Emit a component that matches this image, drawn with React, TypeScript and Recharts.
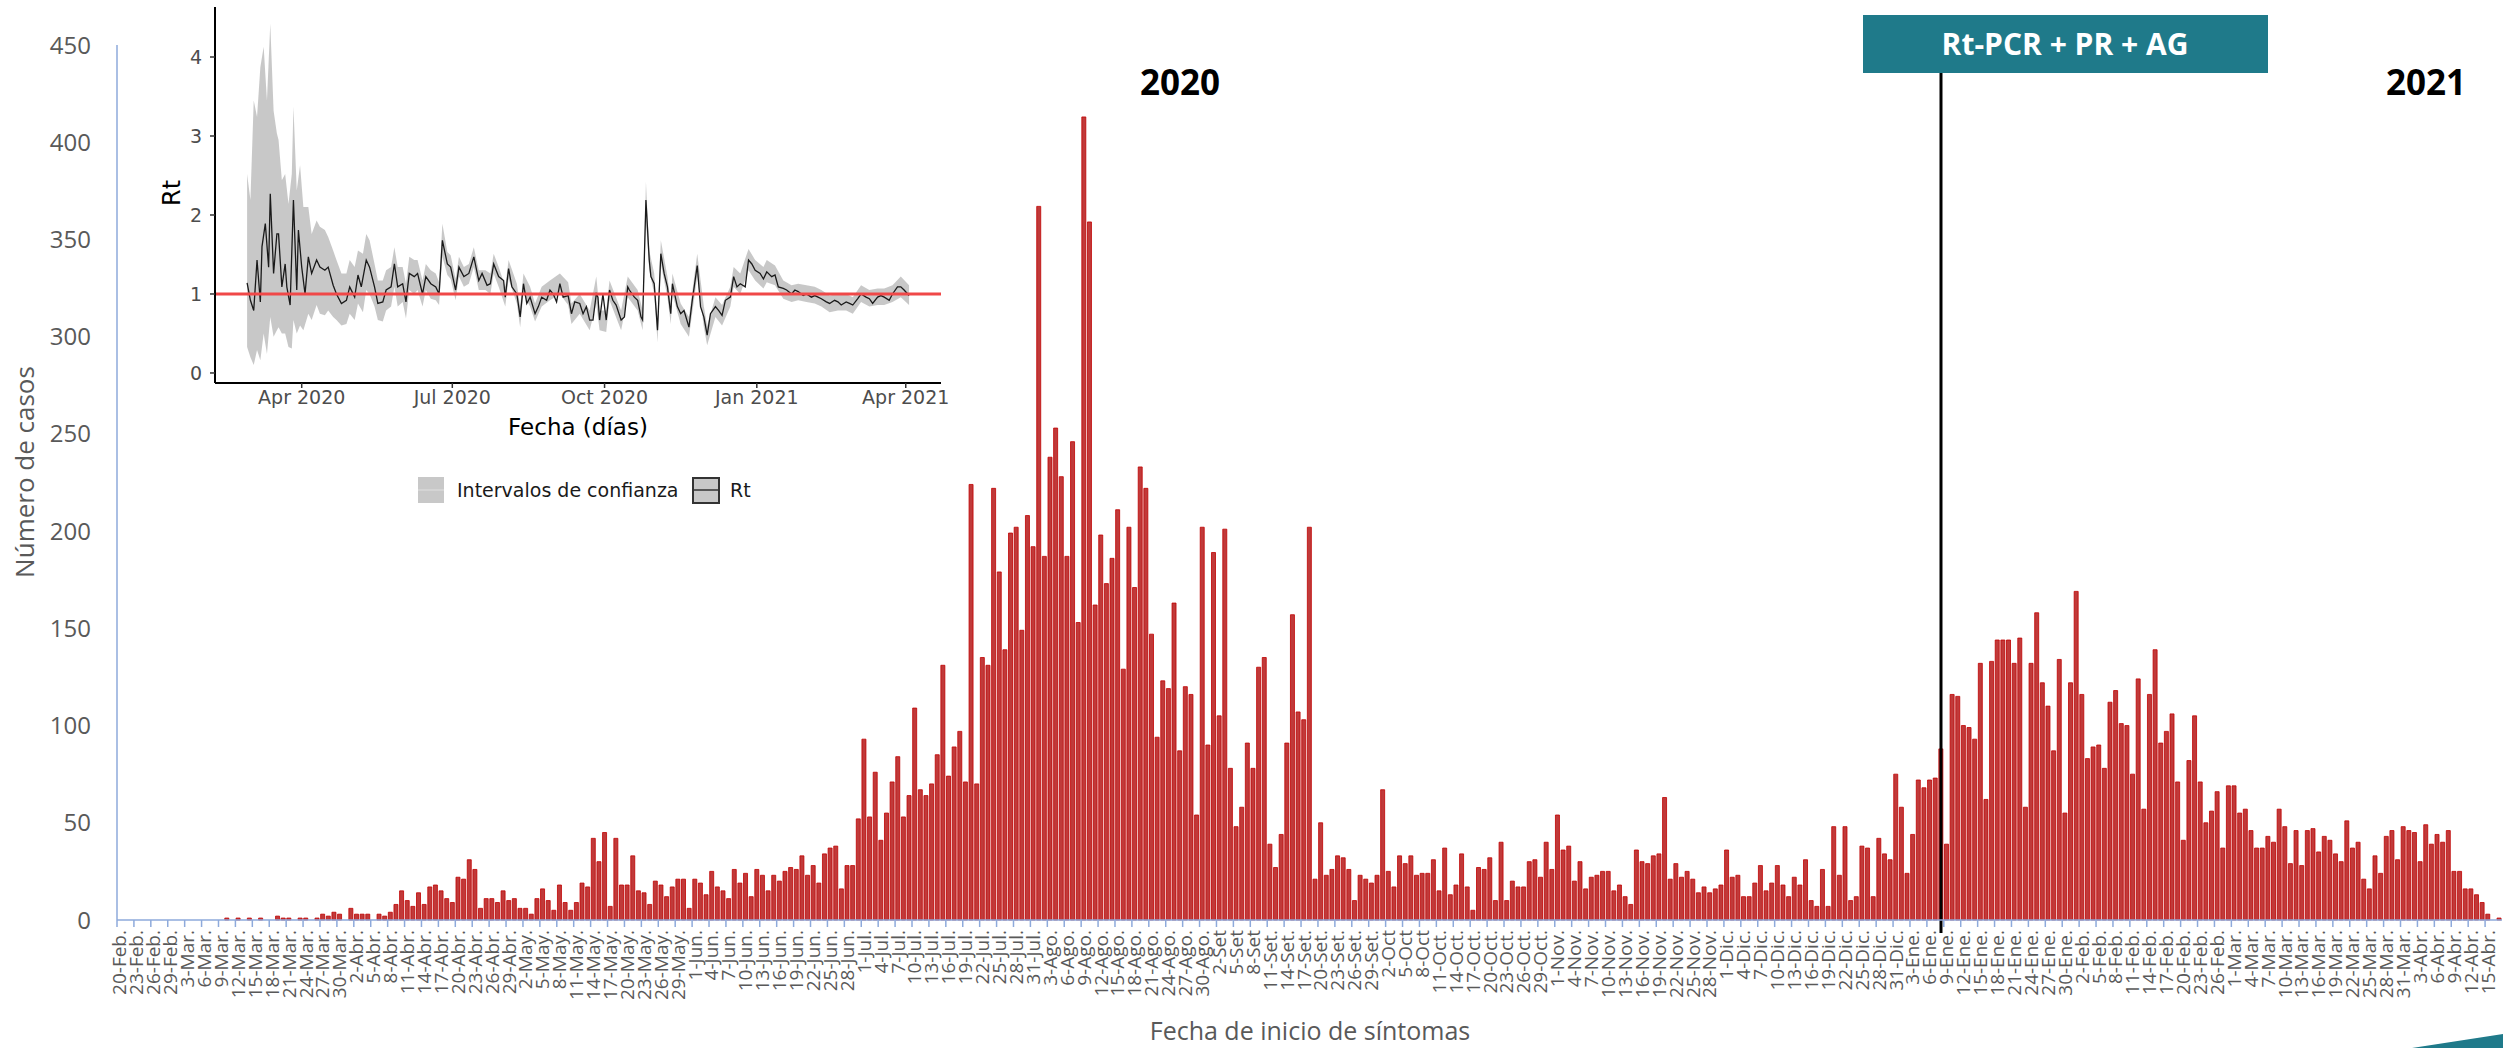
import React from "react";
import {
  BarChart,
  Bar,
  XAxis,
  YAxis,
  ReferenceLine,
  ComposedChart,
  Area,
  Line,
} from "recharts";

const ANCHO = 2503;
const ALTO = 1048;
const AZUL = "#8eaadb";
const GRIS = "#595959";

// casos diarios por fecha de inicio de síntomas (20-Feb-2020 ... 31-Dic-2020)
const casos2020 = [
  0, 0, 0, 0, 0, 0, 0, 0, 0, 0,
  0, 0, 0, 0, 0, 0, 0, 0, 0, 1,
  0, 1, 0, 1, 0, 1, 0, 0, 2, 1,
  1, 0, 1, 1, 0, 1, 3, 2, 4, 3,
  0, 6, 3, 3, 3, 0, 3, 2, 4, 8,
  15, 10, 7, 14, 8, 17, 18, 15, 11, 9,
  22, 21, 31, 26, 6, 11, 11, 9, 15, 10,
  11, 6, 6, 3, 11, 16, 10, 5, 18, 9,
  5, 9, 19, 17, 42, 30, 45, 7, 42, 18,
  18, 33, 15, 14, 8, 20, 18, 12, 17, 21,
  21, 6, 21, 19, 13, 25, 17, 15, 11, 26,
  19, 24, 12, 26, 23, 15, 23, 20, 25, 27,
  26, 33, 23, 28, 19, 34, 37, 38, 16, 28,
  28, 52, 93, 53, 76, 41, 55, 71, 84, 53,
  64, 109, 67, 64, 70, 85, 131, 74, 89, 97,
  71, 224, 70, 135, 131, 222, 179, 139, 199, 202,
  149, 208, 192, 367, 187, 238, 253, 228, 187, 246,
  153, 413, 359, 162, 198, 173, 186, 211, 129, 202,
  171, 233, 222, 147, 94, 123, 119, 163, 87, 120,
  116, 54, 202, 90, 189, 105, 201, 78, 48, 58,
  91, 78, 130, 135, 39, 27, 44, 91, 157, 107,
  103, 202, 21, 50, 23, 26, 33, 32, 26, 10,
  23, 21, 19, 23, 67, 25, 17, 33, 29, 33,
  23, 24, 24, 31, 15, 37, 13, 18, 34, 17,
  5, 27, 26, 32, 10, 40, 10, 20, 17, 17,
  30, 31, 22, 40, 26, 54, 36, 38, 20, 30,
  16, 22, 23, 25, 25, 15, 18, 12, 8, 36,
  30, 29, 33, 34, 63, 21, 29, 22, 25, 21,
  14, 17, 14, 16, 18, 36, 22, 23, 12, 12,
  19, 28, 15, 19, 28, 18, 12, 22, 18, 31,
  10, 7, 26, 7, 48, 23, 48, 10, 12, 38,
  37, 12, 42, 34, 31, 75,
];

// 1-Ene-2021 ... 17-Abr-2021
const casos2021 = [
  58, 24, 44, 72, 68, 72, 73, 88, 39, 116,
  115, 100, 99, 93, 132, 62, 133, 144, 144, 144,
  132, 145, 58, 132, 158, 122, 110, 87, 134, 55,
  122, 169, 116, 83, 89, 90, 78, 112, 118, 101,
  100, 75, 124, 57, 116, 139, 91, 97, 106, 71,
  41, 82, 105, 71, 50, 56, 66, 37, 69, 69,
  55, 57, 46, 37, 37, 43, 40, 57, 48, 29,
  46, 28, 46, 47, 35, 43, 41, 34, 30, 51,
  37, 40, 21, 16, 33, 24, 43, 46, 31, 48,
  46, 45, 30, 49, 39, 44, 40, 46, 25, 25,
  16, 16, 13, 9, 3, 0, 1,
];

const mesesAbrev = ["Feb", "Mar", "Abr", "May", "Jun", "Jul", "Ago", "Set", "Oct", "Nov", "Dic", "Ene", "Feb", "Mar", "Abr"];
const diasPorMes = [29, 31, 30, 31, 30, 31, 31, 30, 31, 30, 31, 31, 28, 31, 30];
const primerDia = 20;
const ticksCasos = [0, 50, 100, 150, 200, 250, 300, 350, 400, 450];

const casos = [...casos2020, ...casos2021];

const etiquetas: string[] = [];
{
  let m = 0;
  let d = primerDia;
  while (etiquetas.length < casos.length) {
    const mes = mesesAbrev[m];
    const punto = (mes === "Set" || mes === "Oct") && d < 10 ? "" : ".";
    etiquetas.push(`${d}-${mes}${punto}`);
    d++;
    if (d > diasPorMes[m]) {
      d = 1;
      m++;
    }
  }
}

const datosCasos = casos.map((v, i) => ({ i, casos: v }));
const idxCambio = etiquetas.indexOf("8-Ene.");

// Rt (días desde 1-Abr-2020)
const rtDia = [
  -33, -31, -29, -27, -25, -24, -22, -20, -19, -17, -15, -14, -12, -10, -9, -7, -5, -3, -2, 0,
  2, 4, 6, 9, 11, 14, 16, 19, 21, 24, 27, 29, 32, 34, 36, 39, 41, 44, 46, 49,
  51, 54, 56, 58, 61, 63, 65, 68, 70, 73, 75, 78, 81, 83, 85, 88, 90, 93, 95, 98,
  101, 104, 107, 109, 112, 114, 116, 119, 122, 123, 125, 127, 130, 132, 134, 136, 138, 141, 143, 145,
  148, 150, 152, 154, 156, 158, 161, 163, 165, 168, 170, 172, 174, 176, 178, 179, 180, 182, 184, 186,
  188, 190, 193, 195, 197, 198, 201, 203, 205, 206, 208, 210, 211, 213, 215, 217, 219, 221, 223, 224,
  227, 229, 231, 234, 236, 239, 241, 243, 245, 247, 250, 252, 254, 256, 259, 261, 263, 265, 268, 270,
  272, 274, 277, 279, 281, 284, 286, 288, 291, 293, 296, 298, 300, 303, 305, 308, 310, 312, 314, 317,
  319, 322, 324, 326, 329, 331, 333, 336, 338, 341, 343, 345, 348, 350, 352, 355, 357, 360, 362, 364,
  367,
];
const rtValor = [
  1.14, 0.92, 0.79, 1.43, 0.9, 1.6, 1.89, 1.34, 2.27, 1.26, 1.76, 1.76, 1.09, 1.38, 1.09, 0.86, 2.19, 1.05, 1.81, 1.34,
  1.0, 1.47, 1.26, 1.43, 1.34, 1.3, 1.34, 1.11, 1.0, 0.88, 0.92, 1.09, 0.96, 1.24, 1.09, 1.43, 1.34, 1.09, 0.88, 0.9,
  1.05, 1.09, 1.38, 1.09, 1.13, 0.9, 1.26, 1.22, 1.26, 1.0, 1.22, 1.13, 1.09, 1.0, 1.68, 1.38, 1.34, 1.05, 1.34, 1.22,
  1.26, 1.47, 1.17, 1.26, 1.11, 1.13, 1.38, 1.22, 1.17, 0.96, 1.32, 1.09, 1.0, 0.71, 1.13, 0.88, 0.96, 0.75, 0.84, 0.96,
  0.92, 1.05, 1.0, 0.9, 1.13, 0.96, 0.98, 0.75, 0.9, 0.88, 0.75, 0.84, 0.67, 0.67, 1.0, 0.96, 0.67, 1.0, 0.67, 1.05,
  0.92, 0.86, 0.67, 0.71, 1.09, 1.05, 0.96, 0.92, 0.71, 0.67, 2.19, 1.43, 1.22, 1.13, 0.54, 1.51, 1.26, 1.09, 0.75, 1.13,
  0.84, 0.75, 0.79, 0.58, 0.92, 1.36, 0.84, 0.71, 0.48, 0.75, 0.84, 0.79, 0.73, 0.92, 0.96, 1.22, 1.09, 1.13, 1.09, 1.43,
  1.38, 1.3, 1.26, 1.19, 1.28, 1.22, 1.24, 1.09, 1.07, 1.05, 1.0, 1.05, 1.03, 0.98, 1.0, 0.96, 0.98, 0.96, 0.94, 0.9,
  0.88, 0.92, 0.9, 0.86, 0.9, 0.88, 0.86, 0.94, 1.0, 0.96, 0.94, 0.88, 0.96, 0.98, 0.96, 0.92, 1.0, 1.09, 1.09, 1.05,
  0.98,
];

// intervalo de confianza
const icDia = [
  -33, -31, -29, -27, -25, -23, -21, -19, -17, -15, -14, -12, -10, -8, -6, -5, -3, -1, 1, 4,
  6, 9, 11, 14, 16, 19, 21, 24, 27, 29, 32, 34, 37, 39, 41, 44, 46, 49, 51, 54,
  56, 58, 61, 63, 65, 68, 70, 73, 75, 78, 81, 83, 85, 88, 90, 93, 95, 98, 101, 104,
  107, 111, 114, 116, 119, 123, 125, 130, 132, 134, 138, 141, 145, 150, 156, 161, 163, 168, 174, 178,
  180, 184, 186, 193, 197, 203, 206, 208, 210, 213, 215, 217, 221, 223, 224, 229, 234, 239, 243, 245,
  250, 254, 259, 261, 265, 270, 274, 279, 281, 286, 291, 296, 300, 305, 310, 314, 319, 324, 329, 333,
  338, 343, 348, 352, 357, 362, 367,
];
const icInf = [
  0.33, 0.2, 0.1, 0.29, 0.16, 0.5, 0.24, 0.71, 0.46, 0.54, 0.58, 0.5, 0.5, 0.33, 0.31, 0.67, 0.5, 0.6, 0.54, 0.75,
  0.67, 0.86, 0.75, 0.73, 0.79, 0.71, 0.67, 0.6, 0.62, 0.75, 0.67, 0.88, 0.77, 1.05, 1.0, 0.84, 0.67, 0.65, 0.79, 0.84,
  1.09, 0.84, 0.9, 0.69, 1.05, 1.0, 1.05, 0.84, 1.05, 0.94, 0.92, 0.86, 1.47, 1.24, 1.19, 0.92, 1.22, 1.09, 1.13, 1.34,
  1.05, 1.05, 1.0, 1.26, 1.09, 0.84, 1.19, 0.88, 0.58, 1.0, 0.84, 0.65, 0.84, 0.92, 1.0, 0.86, 0.62, 0.75, 0.54, 0.88,
  0.54, 0.52, 0.92, 0.54, 0.96, 0.79, 0.54, 1.93, 1.3, 1.0, 0.39, 1.38, 0.96, 0.62, 1.0, 0.62, 0.46, 1.22, 0.58, 0.35,
  0.71, 0.6, 0.84, 1.09, 1.0, 1.3, 1.17, 1.07, 1.15, 1.11, 0.94, 0.9, 0.92, 0.9, 0.88, 0.84, 0.77, 0.79, 0.79, 0.75,
  0.9, 0.84, 0.86, 0.86, 0.9, 0.96, 0.86,
];
const icSup = [
  2.52, 2.19, 3.45, 3.24, 3.87, 4.13, 3.45, 4.42, 3.32, 3.03, 2.95, 2.44, 2.52, 2.14, 2.52, 3.37, 2.31, 2.63, 2.1, 2.1,
  1.76, 1.93, 1.85, 1.81, 1.72, 1.55, 1.43, 1.26, 1.26, 1.43, 1.34, 1.55, 1.51, 1.76, 1.68, 1.38, 1.17, 1.17, 1.3, 1.34,
  1.59, 1.34, 1.34, 1.13, 1.47, 1.43, 1.43, 1.17, 1.38, 1.3, 1.26, 1.15, 1.89, 1.53, 1.49, 1.19, 1.47, 1.34, 1.38, 1.59,
  1.3, 1.3, 1.26, 1.51, 1.34, 1.09, 1.43, 1.13, 0.84, 1.26, 1.09, 0.88, 1.09, 1.17, 1.26, 1.15, 0.88, 1.0, 0.79, 1.22,
  0.79, 0.79, 1.17, 0.79, 1.22, 1.05, 0.79, 2.42, 1.55, 1.26, 0.67, 1.68, 1.22, 0.88, 1.26, 0.88, 0.71, 1.51, 0.84, 0.6,
  0.96, 0.86, 1.09, 1.34, 1.26, 1.57, 1.43, 1.34, 1.43, 1.36, 1.17, 1.11, 1.13, 1.11, 1.09, 1.05, 0.98, 1.0, 1.0, 0.96,
  1.11, 1.05, 1.07, 1.07, 1.11, 1.22, 1.11,
];

const rtTicks = [0, 91, 183, 275, 365];
const rtTickEtiquetas = ["Apr 2020", "Jul 2020", "Oct 2020", "Jan 2021", "Apr 2021"];

const serieRt = rtDia.map((d, k) => ({ d, rt: rtValor[k] }));
const banda = icDia.map((d, k) => ({ d, ic: [icInf[k], icSup[k]] }));

const anchoDia = (ANCHO - 1 - 117) / casos.length;

const TickFecha = (props: any) => {
  const { x, y, payload } = props;
  const xt = x - anchoDia / 2;
  const yt = y + 10;
  return (
    <g>
      <line x1={xt} x2={xt} y1={y} y2={y + 7} stroke={AZUL} strokeWidth={1.5} />
      <text
        x={x}
        y={yt}
        dy="0.35em"
        textAnchor="end"
        transform={`rotate(-90 ${x} ${yt})`}
        fill={GRIS}
        fontSize={19}
        fontFamily="Open Sans"
      >
        {etiquetas[payload.value]}
      </text>
    </g>
  );
};

function GraficoRt() {
  return (
    <ComposedChart width={1000} height={520} margin={{ top: 7, right: 59, bottom: 97, left: 155 }}>
      <XAxis
        type="number"
        dataKey="d"
        domain={[-52.4, 386.3]}
        ticks={rtTicks}
        tickFormatter={(v) => rtTickEtiquetas[rtTicks.indexOf(v)]}
        allowDataOverflow
        height={40}
        axisLine={{ stroke: "#000", strokeWidth: 2 }}
        tickLine={{ stroke: "#333", strokeWidth: 1.5 }}
        tickSize={5}
        tickMargin={3}
        tick={{ fill: "#4d4d4d", fontSize: 19, fontFamily: "DejaVu Sans" }}
      />
      <YAxis
        type="number"
        domain={[-0.127, 4.633]}
        ticks={[0, 1, 2, 3, 4]}
        allowDataOverflow
        width={60}
        axisLine={{ stroke: "#000", strokeWidth: 2 }}
        tickLine={{ stroke: "#333", strokeWidth: 1.5 }}
        tickSize={5}
        tickMargin={8}
        tick={{ fill: "#4d4d4d", fontSize: 19, fontFamily: "DejaVu Sans" }}
      />
      <Area
        data={banda}
        dataKey="ic"
        type="linear"
        stroke="none"
        fill="#c2c2c2"
        fillOpacity={0.9}
        isAnimationActive={false}
      />
      <Line
        data={serieRt}
        dataKey="rt"
        type="linear"
        stroke="#1a1a1a"
        strokeWidth={1.3}
        dot={false}
        isAnimationActive={false}
      />
      <ReferenceLine y={1} stroke="#f04848" strokeWidth={3} />
    </ComposedChart>
  );
}

export default function App() {
  return (
    <div
      style={{
        position: "absolute",
        left: 0,
        top: 0,
        width: ANCHO,
        height: ALTO,
        overflow: "hidden",
        background: "#fff",
        fontFamily: "Open Sans",
      }}
    >
      <div style={{ position: "absolute", left: 0, top: 0 }}>
        <BarChart
          width={ANCHO}
          height={ALTO}
          data={datosCasos}
          margin={{ top: 45, right: 1, bottom: 0, left: 0 }}
          barCategoryGap="12%"
        >
          <XAxis
            dataKey="i"
            type="category"
            interval={2}
            height={128}
            tickSize={0}
            tickMargin={0}
            tickLine={false}
            axisLine={{ stroke: AZUL, strokeWidth: 1.5 }}
            tick={(p: any) => <TickFecha {...p} />}
          />
          <YAxis
            width={117}
            domain={[0, 450]}
            ticks={ticksCasos}
            tickSize={0}
            tickMargin={26}
            tickLine={false}
            axisLine={{ stroke: AZUL, strokeWidth: 1.5 }}
            tick={{ fill: GRIS, fontSize: 24, fontFamily: "Open Sans" }}
          />
          <Bar dataKey="casos" fill="#c03a3a" stroke="#c00000" strokeWidth={0.8} isAnimationActive={false} />
          <ReferenceLine
            segment={[
              { x: idxCambio, y: 435.7 },
              { x: idxCambio, y: -6.7 },
            ]}
            stroke="#000"
            strokeWidth={3}
            ifOverflow="visible"
          />
        </BarChart>
      </div>

      <div style={{ position: "absolute", left: 0, top: 0 }}>
        <GraficoRt />
      </div>

      <svg
        width={ANCHO}
        height={ALTO}
        style={{ position: "absolute", left: 0, top: 0, pointerEvents: "none" }}
      >
        {/* anotaciones */}
        <text x={1180} y={95} textAnchor="middle" fontSize={35} fontWeight={700} fontFamily="Open Sans" fill="#000">
          2020
        </text>
        <text x={2426} y={95} textAnchor="middle" fontSize={35} fontWeight={700} fontFamily="Open Sans" fill="#000">
          2021
        </text>
        <rect x={1863} y={15} width={405} height={58} fill="#1f7a8a" />
        <text x={2065} y={55} textAnchor="middle" fontSize={30} fontWeight={700} fontFamily="Open Sans" fill="#fff">
          Rt-PCR + PR + AG
        </text>

        {/* títulos de ejes */}
        <text x={1310} y={1040} textAnchor="middle" fontSize={25} fontFamily="Open Sans" fill={GRIS}>
          Fecha de inicio de síntomas
        </text>
        <text
          x={25}
          y={472}
          dy="0.35em"
          textAnchor="middle"
          transform="rotate(-90 25 472)"
          fontSize={26}
          fontFamily="Open Sans"
          fill={GRIS}
        >
          Número de casos
        </text>

        {/* inserto Rt: títulos y leyenda */}
        <text x={578} y={435} textAnchor="middle" fontSize={23} fontFamily="DejaVu Sans" fill="#000">
          Fecha (días)
        </text>
        <text
          x={172}
          y={193}
          dy="0.35em"
          textAnchor="middle"
          transform="rotate(-90 172 193)"
          fontSize={24}
          fontFamily="DejaVu Sans"
          fill="#000"
        >
          Rt
        </text>
        <rect x={418} y={477} width={26} height={26} fill="#c8c8c8" />
        <line x1={418} x2={444} y1={490} y2={490} stroke="#d8d8d8" strokeWidth={1.5} />
        <text x={457} y={497} fontSize={19} fontFamily="DejaVu Sans" fill="#1a1a1a">
          Intervalos de confianza
        </text>
        <rect x={693} y={478} width={26} height={25} fill="#c8c8c8" stroke="#333" strokeWidth={2} />
        <line x1={693} x2={719} y1={490} y2={490} stroke="#333" strokeWidth={1.5} />
        <text x={730} y={497} fontSize={19} fontFamily="DejaVu Sans" fill="#1a1a1a">
          Rt
        </text>

        {/* cuña decorativa */}
        <polygon points="2412,1048 2503,1034 2503,1048" fill="#1f7a8a" />
      </svg>
    </div>
  );
}
